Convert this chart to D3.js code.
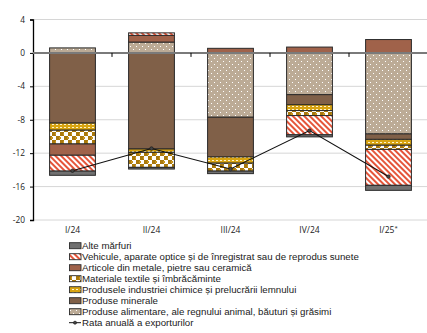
<!DOCTYPE html>
<html>
<head>
<meta charset="utf-8">
<script src="https://cdn.jsdelivr.net/npm/d3@7"></script>
<style>
  html, body { margin: 0; padding: 0; background: #fff; }
  svg { display: block; font-family: "Open Sans", "Noto Sans", sans-serif; }
</style>
</head>
<body>
<svg id="chart" width="427" height="333"></svg>
<script>
// Quarters on the category axis
const categories = ["I/24", "II/24", "III/24", "IV/24", "I/25"];
const categoryMarks = ["", "", "", "", "*"];

// Contributions to the annual export rate (percentage points), per product group
const alimentare = [0.6, 1.3, -7.7, -5.0, -9.7];
const minerale   = [-8.4, -11.5, -4.75, -1.2, -0.65];
const chimice    = [-0.85, -0.4, -0.75, -0.7, -0.7];
const textile    = [-1.65, -1.8, -0.95, -0.6, -0.5];
const metale     = [-1.35, 0.8, 0.55, 0.7, 1.6];
const vehicule   = [-1.9, 0.3, 0, -2.3, -4.3];
const alte       = [-0.5, -0.2, -0.3, -0.25, -0.6];

// Annual export rate (%)
const rata = [-14.1, -11.45, -13.9, -9.3, -14.8];

const yTicks = [-20, -16, -12, -8, -4, 0, 4];

// Series in stacking order (closest to zero first)
const seriesKeys = ["alimentare", "minerale", "chimice", "textile", "metale", "vehicule", "alte"];
const seriesValues = { alimentare, minerale, chimice, textile, metale, vehicule, alte };
const seriesNames = {
  alte: "Alte mărfuri",
  vehicule: "Vehicule, aparate optice și de înregistrat sau de reprodus sunete",
  metale: "Articole din metale, pietre sau ceramică",
  textile: "Materiale textile și îmbrăcăminte",
  chimice: "Produsele industriei chimice și prelucrării lemnului",
  minerale: "Produse minerale",
  alimentare: "Produse alimentare, ale regnului animal, băuturi și grăsimi"
};
const legendOrder = ["alte", "vehicule", "metale", "textile", "chimice", "minerale", "alimentare"];
const lineName = "Rata anuală a exporturilor";

const svg = d3.select("#chart");
const defs = svg.append("defs");

// Fill patterns
function pattern(id, w, h, bg) {
  const p = defs.append("pattern").attr("id", id).attr("patternUnits", "userSpaceOnUse")
    .attr("width", w).attr("height", h);
  p.append("rect").attr("width", w).attr("height", h).attr("fill", bg);
  return p;
}
// food products: beige with white dots
const pAlim = pattern("p-alim", 6, 6, "#bcab96");
pAlim.append("rect").attr("x", 1).attr("y", 1).attr("width", 1).attr("height", 1).attr("fill", "#fff");
pAlim.append("rect").attr("x", 4).attr("y", 4).attr("width", 1).attr("height", 1).attr("fill", "#fff");
// chemicals: gold with white dashes
const pChim = pattern("p-chim", 4, 3, "#d8a412");
pChim.append("rect").attr("x", 0).attr("y", 1).attr("width", 2).attr("height", 1).attr("fill", "#fff4cc");
// textiles: gold/white honeycomb-like checker
const pText = pattern("p-text", 8, 8, "#fff");
pText.append("rect").attr("x", 0).attr("y", 0).attr("width", 4).attr("height", 4).attr("fill", "#a9780c");
pText.append("rect").attr("x", 4).attr("y", 4).attr("width", 4).attr("height", 4).attr("fill", "#a9780c");
pText.append("rect").attr("x", 3).attr("y", 1).attr("width", 2).attr("height", 2).attr("fill", "#c8961e");
pText.append("rect").attr("x", 7).attr("y", 5).attr("width", 2).attr("height", 2).attr("fill", "#c8961e");
// vehicles: red diagonal hatch on white
const pVeh = pattern("p-veh", 4, 4, "#fff");
pVeh.attr("patternTransform", "rotate(-45)");
pVeh.append("rect").attr("x", 0).attr("y", 0).attr("width", 2).attr("height", 4).attr("fill", "#e5553a");

const fills = {
  alimentare: "url(#p-alim)",
  minerale: "#806048",
  chimice: "url(#p-chim)",
  textile: "url(#p-text)",
  metale: "#a0624a",
  vehicule: "url(#p-veh)",
  alte: "#707070"
};

// Scales
const x = d3.scaleBand().domain(categories).range([33, 428]).paddingInner(0.42).paddingOuter(0.21);
const y = d3.scaleLinear().domain([-20, 4]).range([220, 19.5]);

// Gridlines
svg.append("g").selectAll("line").data(yTicks.filter(t => t !== 0)).join("line")
  .attr("x1", 33).attr("x2", 427)
  .attr("y1", d => y(d)).attr("y2", d => y(d))
  .attr("stroke", "#d6d6d6").attr("stroke-width", 1);

// Y axis
const yAxis = svg.append("g").attr("transform", "translate(33,0)")
  .call(d3.axisLeft(y).tickValues(yTicks).tickSize(3).tickPadding(5).tickFormat(d3.format("d")));
yAxis.select(".domain").attr("stroke", "#000").attr("stroke-width", 1.3);
yAxis.selectAll(".tick line").attr("stroke", "#000");
yAxis.selectAll(".tick text").attr("font-size", 8.3).attr("fill", "#222")
  .attr("font-family", "'Open Sans', sans-serif").text(d => d.toString());

// Stacked bars
const table = categories.map((c, i) => {
  const row = { cat: c };
  seriesKeys.forEach(k => { row[k] = seriesValues[k][i]; });
  return row;
});
const stacked = d3.stack().keys(seriesKeys).offset(d3.stackOffsetDiverging)(table);

const barsG = svg.append("g");
stacked.forEach(s => {
  barsG.append("g").selectAll("rect")
    .data(s.filter(d => d[1] - d[0] !== 0))
    .join("rect")
    .attr("x", d => x(d.data.cat))
    .attr("width", x.bandwidth())
    .attr("y", d => y(Math.max(d[0], d[1])))
    .attr("height", d => Math.abs(y(d[0]) - y(d[1])))
    .attr("fill", fills[s.key])
    .attr("stroke", "#2a2a2a")
    .attr("stroke-width", 1);
});

// Zero line with category separators
svg.append("line").attr("x1", 33).attr("x2", 427).attr("y1", y(0)).attr("y2", y(0))
  .attr("stroke", "#7a7a7a").attr("stroke-width", 2);
svg.append("g").selectAll("line").data(categories.slice(1)).join("line")
  .attr("x1", d => x(d) - x.step() * x.paddingInner() / 2)
  .attr("x2", d => x(d) - x.step() * x.paddingInner() / 2)
  .attr("y1", y(0)).attr("y2", y(0) + 4)
  .attr("stroke", "#000").attr("stroke-width", 1);

// Category labels
const xl = svg.append("g").selectAll("text").data(categories).join("text")
  .attr("x", d => x(d) + x.bandwidth() / 2)
  .attr("y", 232.5)
  .attr("text-anchor", "middle")
  .attr("font-size", 8.5).attr("fill", "#222");
xl.text(d => d);
xl.filter((d, i) => categoryMarks[i] !== "").append("tspan")
  .attr("dy", -3).attr("font-size", 6).text((d, i) => "*");

// Annual export rate line
const cx = c => x(c) + x.bandwidth() / 2;
svg.append("path")
  .datum(categories.map((c, i) => [cx(c), y(rata[i])]))
  .attr("d", d3.line())
  .attr("fill", "none").attr("stroke", "#111").attr("stroke-width", 1.1);
svg.append("g").selectAll("circle").data(rata).join("circle")
  .attr("cx", (d, i) => cx(categories[i])).attr("cy", d => y(d))
  .attr("r", 1.8).attr("fill", "#444").attr("stroke", "#111").attr("stroke-width", 0.6);

// Legend (compact sans so that 11px rows do not collide)
const lg = svg.append("g")
  .attr("font-family", "'Liberation Sans', Arial, sans-serif")
  .attr("font-size", 9.6).attr("fill", "#1a1a1a");
const rowH = 11;
const ly0 = 245.7;
const legendTexts = [];
legendOrder.forEach((k, i) => {
  const cy = ly0 + i * rowH;
  lg.append("rect").attr("x", 69.5).attr("y", cy - 3).attr("width", 11.5).attr("height", 6)
    .attr("fill", fills[k]).attr("stroke", "#2a2a2a").attr("stroke-width", 0.9);
  legendTexts.push(lg.append("text").attr("x", 82).attr("y", cy + 3.3).text(seriesNames[k]));
});
{
  const cy = ly0 + legendOrder.length * rowH;
  lg.append("line").attr("x1", 69).attr("x2", 81).attr("y1", cy).attr("y2", cy)
    .attr("stroke", "#111").attr("stroke-width", 1);
  lg.append("circle").attr("cx", 75).attr("cy", cy).attr("r", 1.6).attr("fill", "#444").attr("stroke", "#111").attr("stroke-width", 0.5);
  legendTexts.push(lg.append("text").attr("x", 82).attr("y", cy + 3.3).text(lineName));
}
// size the legend so its longest entry spans about 291px, capped to keep rows apart
{
  const longest = legendTexts[1].node().getComputedTextLength();
  const fs = Math.min(9.7, 9.6 * 291 / longest);
  lg.attr("font-size", fs);
}
</script>
</body>
</html>
